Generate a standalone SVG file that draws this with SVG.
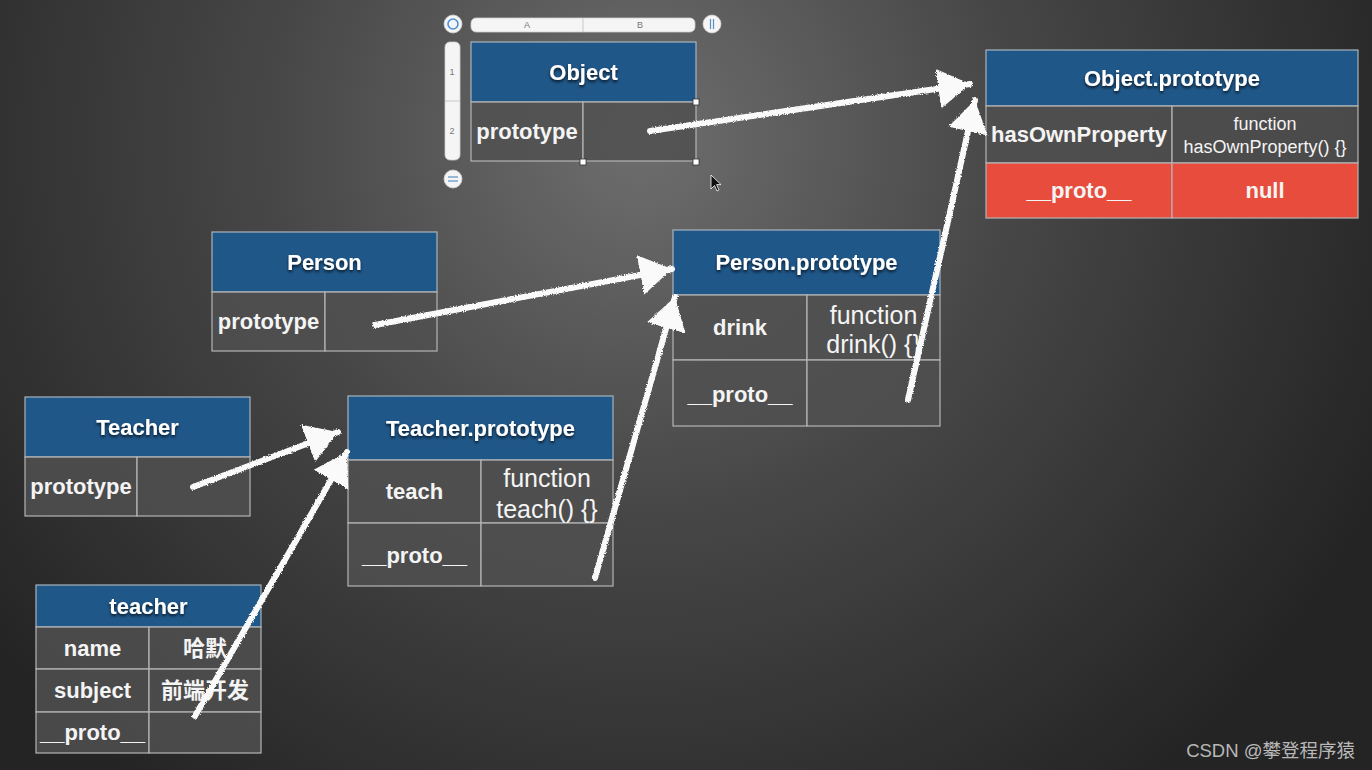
<svg xmlns="http://www.w3.org/2000/svg" width="1372" height="770" viewBox="0 0 1372 770">
<defs>
  <radialGradient id="bg" gradientUnits="userSpaceOnUse" cx="640" cy="140" r="820">
    <stop offset="0" stop-color="#6e6e6e"/>
    <stop offset="0.45" stop-color="#474747"/>
    <stop offset="1" stop-color="#242424"/>
  </radialGradient>
  <filter id="shadow" x="-10%" y="-30%" width="120%" height="170%">
    <feDropShadow dx="0" dy="2" stdDeviation="1.5" flood-color="#000" flood-opacity="0.75"/>
  </filter>
  <filter id="chalk" x="-5%" y="-5%" width="110%" height="110%">
    <feTurbulence type="fractalNoise" baseFrequency="0.9" numOctaves="2" seed="3" result="n"/>
    <feDisplacementMap in="SourceGraphic" in2="n" scale="3" xChannelSelector="R" yChannelSelector="G"/>
  </filter>
  <marker id="head" markerUnits="userSpaceOnUse" markerWidth="40" markerHeight="44" refX="32" refY="21" orient="auto" viewBox="0 0 40 44">
    <path d="M0,1 L32,21 L0,41 Z" fill="#fafafa"/>
  </marker>
  <style>
    .hdr { fill: #1f5789; stroke: #a9b3bb; stroke-width: 1.2; }
    .cell { fill: rgba(80,80,80,0.85); stroke: #b4b4b4; stroke-width: 1.2; }
    .red { fill: #e74c3c; stroke: #b4b4b4; stroke-width: 1.2; }
    .ht { font-family: "Liberation Sans", Arial, sans-serif; font-weight: bold; font-size: 22px; fill: #fff; text-anchor: middle; filter: url(#shadow); }
    .ct { font-family: "Liberation Sans", Arial, sans-serif; font-weight: bold; font-size: 22px; fill: #f4f4f4; text-anchor: middle; }
    .cj { font-family: "Liberation Sans", "Noto Sans CJK SC", sans-serif; font-weight: bold; font-size: 22px; fill: #f4f4f4; text-anchor: middle; }
    .ft { font-family: "Liberation Sans", Arial, sans-serif; font-size: 25px; fill: #f4f4f4; text-anchor: middle; }
    .fs { font-family: "Liberation Sans", Arial, sans-serif; font-size: 18px; fill: #f4f4f4; text-anchor: middle; }
    .arrow { fill: none; stroke: #fafafa; stroke-width: 6; stroke-linecap: round; marker-end: url(#head); }
    .ctl { fill: #f5f5f5; stroke: #cfcfcf; stroke-width: 0.8; }
    .ctlt { font-family: "Liberation Sans", Arial, sans-serif; font-size: 9px; fill: #777; text-anchor: middle; }
    .hdl { fill: #fff; stroke: #333; stroke-width: 0.8; }
  </style>
</defs>

<rect width="1372" height="770" fill="url(#bg)"/>

<!-- editor controls around Object table -->
<g id="editor-controls">
  <circle cx="453" cy="24" r="9" class="ctl"/>
  <circle cx="453" cy="24" r="5" fill="none" stroke="#4a90d9" stroke-width="1.6"/>
  <rect x="471" y="18" width="224" height="14" rx="5" class="ctl"/>
  <line x1="583" y1="18" x2="583" y2="32" stroke="#c8c8c8" stroke-width="1"/>
  <text x="527" y="28" class="ctlt">A</text>
  <text x="640" y="28" class="ctlt">B</text>
  <circle cx="712" cy="24" r="9" class="ctl"/>
  <line x1="710.5" y1="19" x2="710.5" y2="29" stroke="#5a8fc4" stroke-width="1.2"/>
  <line x1="713.5" y1="19" x2="713.5" y2="29" stroke="#5a8fc4" stroke-width="1.2"/>
  <rect x="445" y="42" width="15" height="118" rx="5" class="ctl"/>
  <line x1="445" y1="101" x2="460" y2="101" stroke="#c8c8c8" stroke-width="1"/>
  <text x="452" y="75" class="ctlt">1</text>
  <text x="452" y="134" class="ctlt">2</text>
  <circle cx="453" cy="179" r="9" class="ctl"/>
  <line x1="448" y1="177" x2="458" y2="177" stroke="#5a8fc4" stroke-width="1.2"/>
  <line x1="448" y1="181" x2="458" y2="181" stroke="#5a8fc4" stroke-width="1.2"/>
  <path d="M711,175 L711,189 L714.5,185.5 L717,191 L719,190 L716.6,184.6 L721,184.6 Z" fill="#111" stroke="#fff" stroke-width="0.8"/>
</g>

<g id="node-object">
  <rect x="471" y="42" width="225" height="60" class="hdr"/>
  <rect x="471" y="102" width="112" height="59" class="cell"/>
  <rect x="583" y="102" width="113" height="59" class="cell"/>
  <text x="583.5" y="80" class="ht">Object</text>
  <text x="527" y="139" class="ct">prototype</text>
  <rect x="693" y="99" width="6" height="6" class="hdl"/>
  <rect x="580" y="159" width="6" height="6" class="hdl"/>
  <rect x="693" y="159" width="6" height="6" class="hdl"/>
</g>

<g id="node-object-prototype">
  <rect x="986" y="50" width="372" height="56" class="hdr"/>
  <rect x="986" y="106" width="186" height="57" class="cell"/>
  <rect x="1172" y="106" width="186" height="57" class="cell"/>
  <rect x="986" y="163" width="186" height="55" class="red"/>
  <rect x="1172" y="163" width="186" height="55" class="red"/>
  <text x="1172" y="86" class="ht">Object.prototype</text>
  <text x="1079" y="142" class="ct">hasOwnProperty</text>
  <text x="1265" y="130" class="fs">function</text>
  <text x="1265" y="153" class="fs">hasOwnProperty() {}</text>
  <text x="1079" y="198" class="ct">__proto__</text>
  <text x="1265" y="198" class="ct">null</text>
</g>

<g id="node-person">
  <rect x="212" y="232" width="225" height="60" class="hdr"/>
  <rect x="212" y="292" width="113" height="59" class="cell"/>
  <rect x="325" y="292" width="112" height="59" class="cell"/>
  <text x="324.5" y="270" class="ht">Person</text>
  <text x="268.5" y="329" class="ct">prototype</text>
</g>

<g id="node-person-prototype">
  <rect x="673" y="230" width="267" height="65" class="hdr"/>
  <rect x="673" y="295" width="134" height="65" class="cell"/>
  <rect x="807" y="295" width="133" height="65" class="cell"/>
  <rect x="673" y="360" width="134" height="66" class="cell"/>
  <rect x="807" y="360" width="133" height="66" class="cell"/>
  <text x="806.5" y="270" class="ht">Person.prototype</text>
  <text x="740" y="335" class="ct">drink</text>
  <text x="873.5" y="324" class="ft">function</text>
  <text x="873.5" y="353" class="ft">drink() {}</text>
  <text x="740" y="402" class="ct">__proto__</text>
</g>

<g id="node-teacher-ctor">
  <rect x="25" y="397" width="225" height="60" class="hdr"/>
  <rect x="25" y="457" width="112" height="59" class="cell"/>
  <rect x="137" y="457" width="113" height="59" class="cell"/>
  <text x="137.5" y="435" class="ht">Teacher</text>
  <text x="81" y="494" class="ct">prototype</text>
</g>

<g id="node-teacher-prototype">
  <rect x="348" y="396" width="265" height="64" class="hdr"/>
  <rect x="348" y="460" width="133" height="63" class="cell"/>
  <rect x="481" y="460" width="132" height="63" class="cell"/>
  <rect x="348" y="523" width="133" height="63" class="cell"/>
  <rect x="481" y="523" width="132" height="63" class="cell"/>
  <text x="480.5" y="436" class="ht">Teacher.prototype</text>
  <text x="414.5" y="499" class="ct">teach</text>
  <text x="547" y="487" class="ft">function</text>
  <text x="547" y="518" class="ft">teach() {}</text>
  <text x="414.5" y="563" class="ct">__proto__</text>
</g>

<g id="node-teacher-instance">
  <rect x="36" y="585" width="225" height="42" class="hdr"/>
  <rect x="36" y="627" width="113" height="42" class="cell"/>
  <rect x="149" y="627" width="112" height="42" class="cell"/>
  <rect x="36" y="669" width="113" height="43" class="cell"/>
  <rect x="149" y="669" width="112" height="43" class="cell"/>
  <rect x="36" y="712" width="113" height="41" class="cell"/>
  <rect x="149" y="712" width="112" height="41" class="cell"/>
  <text x="148.5" y="614" class="ht">teacher</text>
  <text x="92.5" y="656" class="ct">name</text>
  <text x="205" y="656" class="cj">哈默</text>
  <text x="92.5" y="698" class="ct">subject</text>
  <text x="205" y="698" class="cj">前端开发</text>
  <text x="92.5" y="740" class="ct">__proto__</text>
</g>

<g id="connectors" filter="url(#chalk)">
  <line x1="650" y1="131" x2="970" y2="84" class="arrow"/>
  <line x1="908" y1="400" x2="975" y2="100" class="arrow"/>
  <line x1="375" y1="325" x2="672" y2="269" class="arrow"/>
  <line x1="595" y1="578" x2="675" y2="297" class="arrow"/>
  <line x1="193" y1="487" x2="338" y2="432" class="arrow"/>
  <line x1="195" y1="716" x2="347" y2="452" class="arrow"/>
</g>

<text x="1355" y="757" font-family="'Liberation Sans', 'Noto Sans CJK SC', sans-serif" font-size="18.5" fill="#b8b8b8" text-anchor="end">CSDN @攀登程序猿</text>
</svg>
